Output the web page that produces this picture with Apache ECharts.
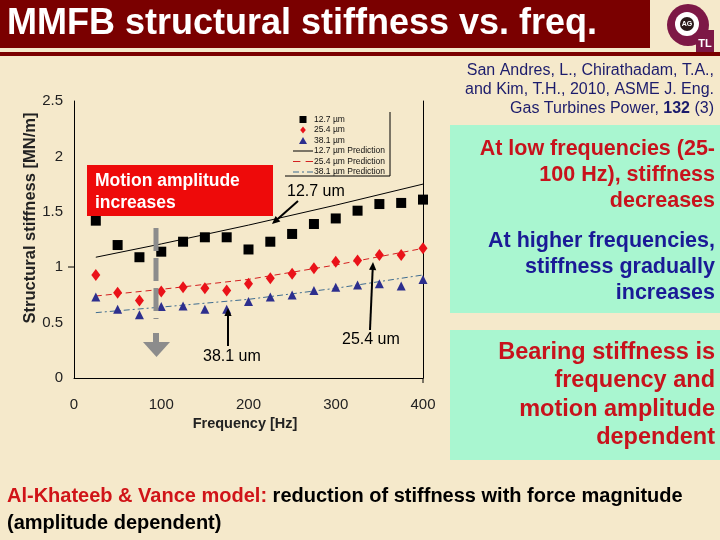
<!DOCTYPE html>
<html><head><meta charset="utf-8">
<script src="https://cdn.jsdelivr.net/npm/echarts@6/dist/echarts.min.js"></script>
<style>html,body{margin:0;padding:0;background:#f5e9cb;}#c{width:720px;height:540px;}</style>
</head><body><div id="c"></div><script>
// ---- data ----
const freq = [25,50,75,100,125,150,175,200,225,250,275,300,325,350,375,400];
const k127 = [1.42,1.20,1.09,1.14,1.23,1.27,1.27,1.16,1.23,1.30,1.39,1.44,1.51,1.57,1.58,1.61];
const k254 = [0.93,0.77,0.70,0.78,0.82,0.81,0.79,0.85,0.90,0.94,0.99,1.05,1.06,1.11,1.11,1.17];
const k381 = [0.73,0.62,0.57,0.645,0.65,0.62,0.62,0.69,0.73,0.75,0.79,0.82,0.84,0.85,0.83,0.89];
const predFreq = [25,100,200,300,400];
const p127 = [1.09,1.21,1.38,1.56,1.75];
const p254 = [0.74,0.80,0.89,1.02,1.17];
const p381 = [0.59,0.64,0.71,0.81,0.93];
const seriesNames = ['12.7 µm','25.4 µm','38.1 µm','12.7 µm Prediction','25.4 µm Prediction','38.1 µm Prediction'];
const xTicks = [0,100,200,300,400];
const yTicks = [0,0.5,1,1.5,2,2.5];

const pair = (xs, ys) => xs.map((x,i)=>[x, ys[i]]);
const FONT = '"Liberation Sans", Arial, sans-serif';

function arrow(x1,y1,x2,y2,color,w,head){
  const a = Math.atan2(y2-y1,x2-x1), h = head||8, hw = (head||8)*0.45;
  const bx = x2 - h*Math.cos(a), by = y2 - h*Math.sin(a);
  return [
    {type:'line', z:50, shape:{x1:x1,y1:y1,x2:bx,y2:by}, style:{stroke:color,lineWidth:w}},
    {type:'polygon', z:50, shape:{points:[[x2,y2],[bx+hw*Math.sin(a),by-hw*Math.cos(a)],[bx-hw*Math.sin(a),by+hw*Math.cos(a)]]}, style:{fill:color}}
  ];
}
function txt(x,y,text,opt){
  return {type:'text', z:60, style:Object.assign({x:x,y:y,text:text,fontFamily:FONT,fontSize:14,fill:'#000',align:'left',verticalAlign:'middle'},opt||{})};
}
const RED = '#c8121c', NAVY = '#1a1a96';
const graphics = [
  {type:'rect', z:40, shape:{x:0,y:0,width:650,height:48}, style:{fill:'#7a0000'}},
  {type:'rect', z:40, shape:{x:0,y:52,width:720,height:4}, style:{fill:'#7a0000'}},
  txt(7,24,'MMFB structural stiffness vs. freq.',{fontSize:36,fontWeight:'bold',fill:'#ffffff'}),
  // logo
  {type:'circle', z:40, shape:{cx:688,cy:25,r:21}, style:{fill:'#7d1846'}},
  {type:'rect', z:40, shape:{x:696,y:30,width:18,height:22}, style:{fill:'#7d1846'}},
  {type:'circle', z:41, shape:{cx:687,cy:24,r:12}, style:{fill:'#ffffff'}},
  {type:'circle', z:42, shape:{cx:687,cy:24,r:7}, style:{fill:'#2a1a1a'}},
  txt(687,24,'AG',{fontSize:7,fontWeight:'bold',fill:'#fff',align:'center'}),
  txt(705,44,'TL',{fontSize:11,fontWeight:'bold',fill:'#fff',align:'center'}),
  // citation
  txt(714,71,'San Andres, L., Chirathadam, T.A.,',{fontSize:16,fill:'#1c1c6c',align:'right'}),
  txt(714,90,'and Kim, T.H., 2010, ASME J. Eng.',{fontSize:16,fill:'#1c1c6c',align:'right'}),
  txt(714,109,'Gas Turbines Power, {b|132} (3)',{fontSize:16,fill:'#1c1c6c',align:'right',rich:{b:{fontWeight:'bold',fontSize:16,fontFamily:FONT,fill:'#1c1c6c'}}}),
  // green boxes
  {type:'rect', z:40, shape:{x:450,y:125,width:270,height:188}, style:{fill:'#a9f6d0'}},
  {type:'rect', z:40, shape:{x:450,y:330,width:270,height:130}, style:{fill:'#a9f6d0'}},
  txt(715,149,'At low frequencies (25-',{fontSize:21.5,fontWeight:'bold',fill:RED,align:'right'}),
  txt(715,175,'100 Hz), stiffness',{fontSize:21.5,fontWeight:'bold',fill:RED,align:'right'}),
  txt(715,201,'decreases',{fontSize:21.5,fontWeight:'bold',fill:RED,align:'right'}),
  txt(715,241,'At higher frequencies,',{fontSize:21.5,fontWeight:'bold',fill:NAVY,align:'right'}),
  txt(715,267,'stiffness gradually',{fontSize:21.5,fontWeight:'bold',fill:NAVY,align:'right'}),
  txt(715,293,'increases',{fontSize:21.5,fontWeight:'bold',fill:NAVY,align:'right'}),
  txt(715,353,'Bearing stiffness is',{fontSize:23.5,fontWeight:'bold',fill:RED,align:'right'}),
  txt(715,381,'frequency and',{fontSize:23.5,fontWeight:'bold',fill:RED,align:'right'}),
  txt(715,410,'motion amplitude',{fontSize:23.5,fontWeight:'bold',fill:RED,align:'right'}),
  txt(715,438,'dependent',{fontSize:23.5,fontWeight:'bold',fill:RED,align:'right'}),
  // red box
  {type:'rect', z:40, shape:{x:87,y:165,width:186,height:51}, style:{fill:'#ee0a0a'}},
  txt(95,181,'Motion amplitude',{fontSize:17.5,fontWeight:'bold',fill:'#ffffff'}),
  txt(95,203,'increases',{fontSize:17.5,fontWeight:'bold',fill:'#ffffff'}),
  // gray dashed + arrow
  {type:'line', z:45, shape:{x1:156,y1:228,x2:156,y2:319}, style:{stroke:'#8c8c8c',lineWidth:5,lineDash:[23,7]}},
  {type:'rect', z:45, shape:{x:153,y:333,width:6,height:10}, style:{fill:'#8c8c8c'}},
  {type:'polygon', z:45, shape:{points:[[143,342],[170,342],[156.5,357]]}, style:{fill:'#8c8c8c'}},
  // annotations
  txt(287,192,'12.7 um',{fontSize:16}),
  txt(342,340,'25.4 um',{fontSize:16}),
  txt(203,357,'38.1 um',{fontSize:16}),
  ...arrow(298,201,272,224,'#000',2,8),
  ...arrow(370,330,373,262,'#000',2,8),
  ...arrow(228,346,228,308,'#000',2,8),
  // axis names
  {type:'text', z:60, x:30, y:218, rotation:Math.PI/2,
    style:{x:0,y:0,text:'Structural stiffness [MN/m]',fontFamily:FONT,fontSize:16.5,fontWeight:'bold',fill:'#222',align:'center',verticalAlign:'middle'}},
  // small ticks
  {type:'line', z:30, shape:{x1:68,y1:267,x2:74,y2:267}, style:{stroke:'#000',lineWidth:1}},
  {type:'line', z:30, shape:{x1:423,y1:378,x2:423,y2:383}, style:{stroke:'#000',lineWidth:1}},
  // legend frame
  {type:'polyline', z:30, shape:{points:[[285,176],[390,176],[390,112]]}, style:{stroke:'#000',lineWidth:1,fill:null}},
  // bottom note
  txt(7,496,'{r|Al-Khateeb & Vance model:} reduction of stiffness with force magnitude',{fontSize:20,fontWeight:'bold',fill:'#000',rich:{r:{fill:'#d01418',fontSize:20,fontWeight:'bold',fontFamily:FONT}}}),
  txt(7,523,'(amplitude dependent)',{fontSize:20,fontWeight:'bold',fill:'#000'})
];

const icons = [
  'path://M0,0h8v8h-8z',
  'path://M4,0L8,5L4,10L0,5z',
  'path://M4,0L8,7L0,7z',
  'path://M0,0h20v1h-20z',
  'path://M0,0h7v1h-7zM12,0h7v1h-7z',
  'path://M0,0h6v1h-6zM9,0h2v1h-2zM14,0h6v1h-6z'
];

const chart = echarts.init(document.getElementById('c'), null, {renderer:'canvas'});
chart.setOption({
  backgroundColor:'#f5e9cb',
  animation:false,
  textStyle:{fontFamily:FONT},
  grid:{left:74, top:101, width:349, height:277, containLabel:false},
  xAxis:{type:'value', min:0, max:400, interval:100,
    name:'Frequency [Hz]', nameLocation:'middle', nameGap:31,
    nameTextStyle:{fontSize:14.5,fontWeight:'bold',color:'#222',padding:[0,7,0,0]},
    axisLine:{show:true,lineStyle:{color:'#000',width:1}}, axisTick:{show:false},
    axisLabel:{fontSize:15,color:'#222',margin:19,formatter:v=>xTicks.includes(v)?String(v):''},
    splitLine:{show:false}},
  yAxis:[{type:'value', min:0, max:2.5, interval:0.5,
    axisLine:{show:true,lineStyle:{color:'#000',width:1}}, axisTick:{show:false},
    axisLabel:{fontSize:15,color:'#222',margin:11,formatter:v=>yTicks.includes(v)?String(v):''},
    splitLine:{show:false}},
   {type:'value', min:0, max:2.5, interval:0.5, position:'right',
    axisLine:{show:true,lineStyle:{color:'#000',width:1}}, axisTick:{show:false}, axisLabel:{show:false}, splitLine:{show:false}}],
  legend:{orient:'vertical', left:288, top:110, itemWidth:20, itemHeight:7, itemGap:1.5, symbolKeepAspect:true,
    textStyle:{fontSize:8.5,color:'#111',lineHeight:9,padding:[0,0,0,-4]},
    data:seriesNames.map((n,i)=>({name:n, icon:icons[i]}))},
  series:[
    {name:seriesNames[3], type:'line', data:pair(predFreq,p127), symbol:'none', z:2,
      lineStyle:{color:'#000',width:1,type:'solid'}, itemStyle:{color:'#000'}},
    {name:seriesNames[4], type:'line', data:pair(predFreq,p254), symbol:'none', z:2,
      lineStyle:{color:'#d42020',width:1,type:[6,4]}, itemStyle:{color:'#d42020'}},
    {name:seriesNames[5], type:'line', data:pair(predFreq,p381), symbol:'none', z:2,
      lineStyle:{color:'#3e6c90',width:1,type:[6,3,2,3]}, itemStyle:{color:'#3e6c90'}},
    {name:seriesNames[0], type:'scatter', data:pair(freq,k127), symbol:'rect', symbolSize:10, z:3,
      itemStyle:{color:'#000',opacity:1}},
    {name:seriesNames[1], type:'scatter', data:pair(freq,k254), symbol:'diamond', symbolSize:[9,12], z:3,
      itemStyle:{color:'#ea1219',opacity:1}},
    {name:seriesNames[2], type:'scatter', data:pair(freq,k381), symbol:'triangle', symbolSize:[9,9], z:3,
      itemStyle:{color:'#2d2f8e',opacity:1}}
  ],
  graphic:{elements:graphics}
});
</script></body></html>
